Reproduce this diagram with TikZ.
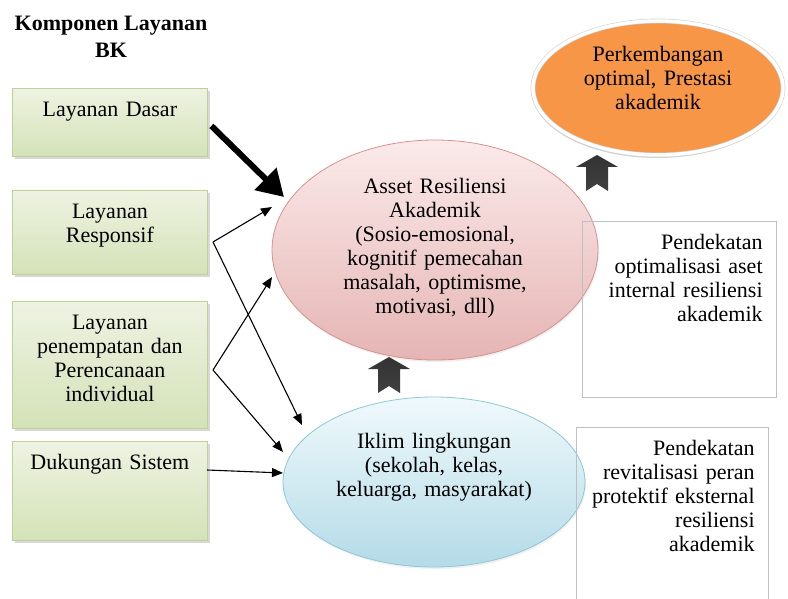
\documentclass[tikz,border=0pt]{standalone}
\usepackage{fontspec}
\setmainfont{Liberation Serif}
\usetikzlibrary{shapes.geometric,arrows.meta,shadows}

\definecolor{hijauatas}{RGB}{238,243,226}
\definecolor{hijaubawah}{RGB}{212,226,184}
\definecolor{hijaugaris}{RGB}{190,210,150}
\definecolor{merahatas}{RGB}{251,234,234}
\definecolor{merahbawah}{RGB}{229,181,180}
\definecolor{merahgaris}{RGB}{214,146,144}
\definecolor{biruatas}{RGB}{240,249,252}
\definecolor{birubawah}{RGB}{180,219,231}
\definecolor{birugaris}{RGB}{140,200,218}
\definecolor{oranye}{RGB}{247,150,70}

\tikzset{
  blokpanah/.pic={
    \shade[top color=black!80, middle color=black, bottom color=black!75]
      (0,0) -- (-21,12) -- (-11,12) -- (-11,36) -- (0,29) -- (11,36) -- (11,12) -- (21,12) -- cycle;
  }
}

\begin{document}
\begin{tikzpicture}[x=1pt, y=-1pt, font=\fontsize{22}{24}\selectfont,
  komp/.style={draw=hijaugaris, line width=0.8pt, top color=hijauatas, bottom color=hijaubawah,
    drop shadow={shadow xshift=2.5pt, shadow yshift=-2.5pt, fill=black!30},
    anchor=north west, inner xsep=0pt, inner ysep=0pt, text width=195pt, align=center,
    text height=28pt, text depth=#1},
  pendekatan/.style={draw=black!25, line width=0.8pt, anchor=north east,
    inner xsep=14pt, inner ysep=0pt, text width=164pt, align=right, text height=28pt, text depth=#1},
  aset/.style={ellipse, draw=merahgaris, line width=0.8pt, top color=merahatas, bottom color=merahbawah,
    drop shadow={shadow xshift=1pt, shadow yshift=-2pt, fill=black!12},
    inner sep=0pt, align=center, text width=190pt, minimum width=326pt, minimum height=220pt,
    text height=16pt, text depth=128pt},
  iklim/.style={ellipse, draw=birugaris, line width=0.8pt, top color=biruatas, bottom color=birubawah,
    drop shadow={shadow xshift=1pt, shadow yshift=-2pt, fill=black!12},
    inner sep=0pt, align=center, text width=200pt, minimum width=302pt, minimum height=170pt,
    text height=16pt, text depth=84pt},
  hasil/.style={ellipse, draw=black!18, line width=0.6pt, double=white, double distance=3.5pt, fill=oranye,
    drop shadow={shadow xshift=-1pt, shadow yshift=-3pt, fill=black!35},
    inner sep=0pt, align=center, text width=160pt, minimum width=250pt, minimum height=134pt,
    text height=16pt, text depth=68pt},
  panah/.style={line width=1.1pt, -{Triangle[length=11pt,width=9pt]}}]

\useasboundingbox (0,0) rectangle (788,599);

% Judul
\node[font=\fontsize{22}{27}\selectfont\bfseries, align=center] (judul) at (111,37) {Komponen Layanan\\BK};

% Komponen layanan (kiri)
\node[komp=40pt] (dasar) at (12,88) {Layanan Dasar};
\node[komp=56pt] (responsif) at (12,190) {Layanan\\Responsif};
\node[komp=99pt] (penempatan) at (12,301) {Layanan\\penempatan dan\\Perencanaan\\individual};
\node[komp=71pt] (dukungan) at (12,441) {Dukungan Sistem};

% Elips tengah
\node[aset] (aset) at (435,250) {Asset Resiliensi\\Akademik\\(Sosio-emosional,\\kognitif pemecahan\\masalah, optimisme,\\motivasi, dll)};
\node[iklim] (iklim) at (434,482) {Iklim lingkungan\\(sekolah, kelas,\\keluarga, masyarakat)};
\node[hasil] (hasil) at (658,88) {Perkembangan\\optimal, Prestasi\\akademik};

% Kotak pendekatan (kanan)
\node[pendekatan=148pt, text width=166pt] (internal) at (777,221) {Pendekatan\\optimalisasi aset\\internal resiliensi\\akademik};
\node[pendekatan=170pt] (eksternal) at (769,427) {Pendekatan\\revitalisasi peran\\protektif eksternal\\resiliensi\\akademik};

% Panah blok
\pic at (389,357) {blokpanah};
\pic at (597,155) {blokpanah};

% Titik bantu panah
\coordinate (v2) at (213,242);
\coordinate (v3) at (213,370);
\coordinate (v4) at (207,470);
\coordinate (t0) at (284,197);
\coordinate (t1) at (272,207);
\coordinate (t2) at (302,425);
\coordinate (t3) at (272,277);
\coordinate (t4) at (283,452);
\coordinate (t5) at (283,473);

% Panah tebal (Layanan Dasar)
\draw[line width=6pt, -{Triangle[length=26pt,width=30pt]}, shorten <=5pt] (dasar.east) -- (t0);

% Panah tipis
\draw[panah] (v2) -- (t1);
\draw[panah] (v2) -- (t2);
\draw[panah] (v3) -- (t3);
\draw[panah] (v3) -- (t4);
\draw[panah] (v4) -- (t5);
\end{tikzpicture}
\end{document}
